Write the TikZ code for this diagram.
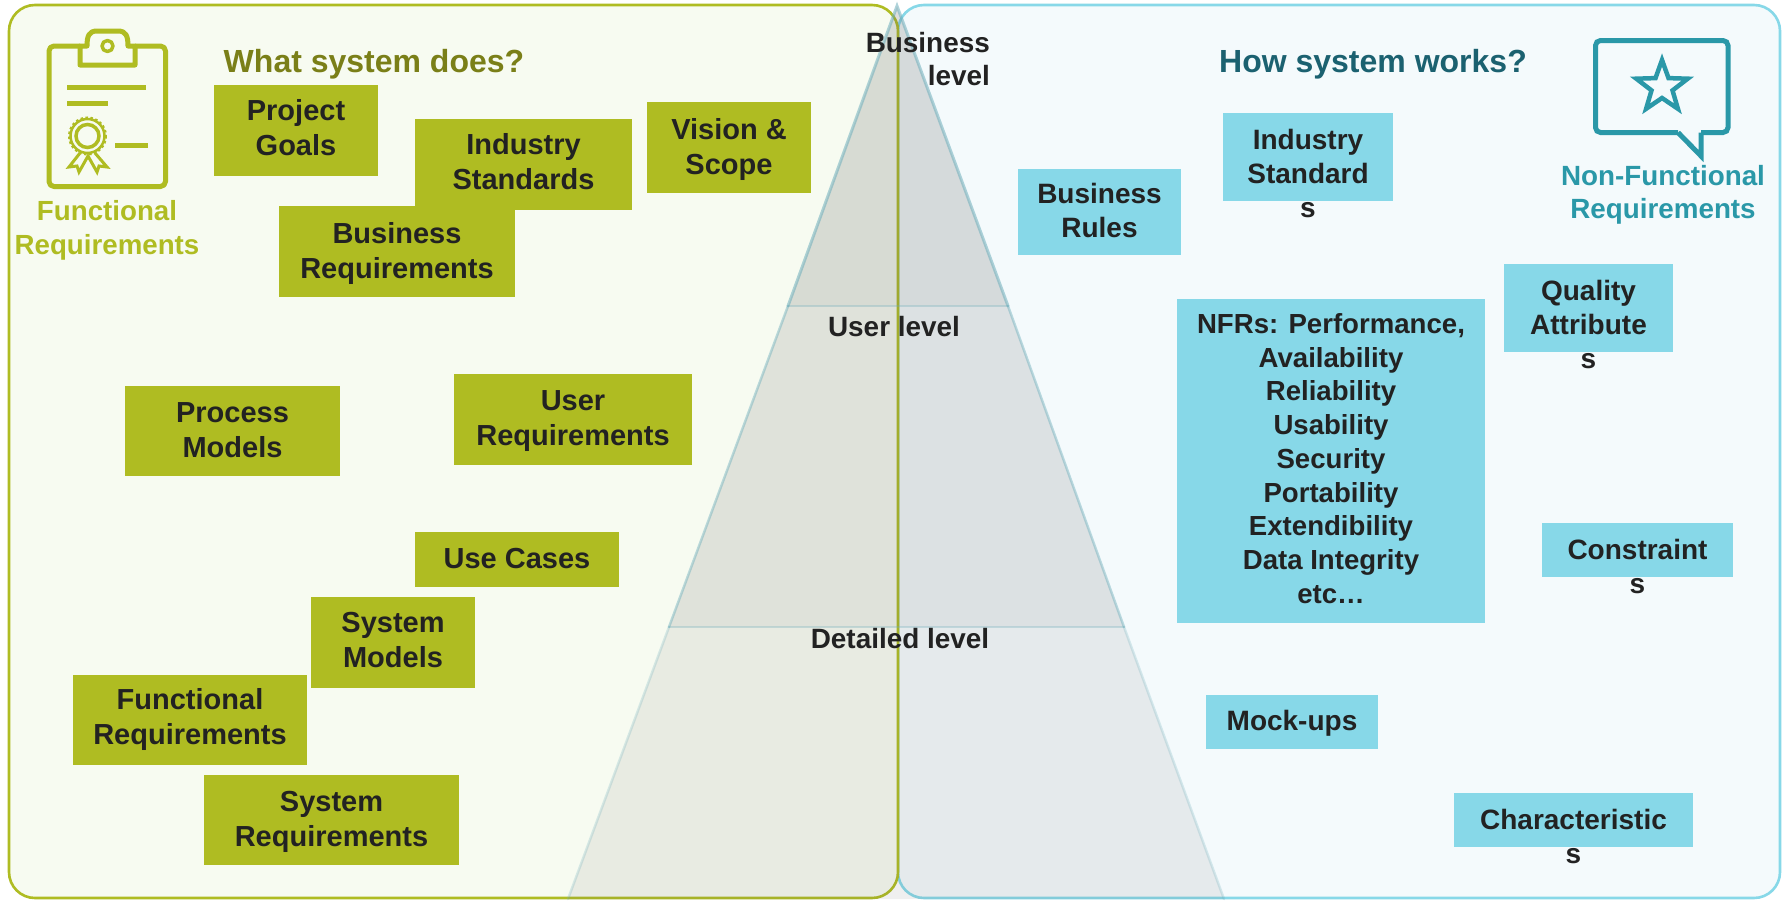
\documentclass[tikz,border=0pt]{standalone}
\usepackage{fontspec}
\setmainfont{Liberation Sans}
\definecolor{olivebox}{HTML}{AFBC22}
\definecolor{cyanbox}{HTML}{87D8E8}
\definecolor{leftbg}{HTML}{F7FBF1}
\definecolor{rightbg}{HTML}{F4FAFC}
\definecolor{inktext}{HTML}{222222}
\definecolor{titleolive}{HTML}{7A7F18}
\definecolor{titleteal}{HTML}{1B6170}
\definecolor{iconteal}{HTML}{2A98A8}
\definecolor{pyrfill}{HTML}{646464}
\definecolor{pyredge}{HTML}{6FAFBC}
\tikzset{
  x=1pt,y=-1pt,
  olv/.style={fill=olivebox,draw=none,inner sep=0pt},
  cyn/.style={fill=cyanbox,draw=none,inner sep=0pt},
  lefttext/.style={font=\fontsize{29}{35}\selectfont\bfseries,text=inktext,align=center,inner sep=0pt},
  righttext/.style={font=\fontsize{28}{34}\selectfont\bfseries,text=inktext,align=center,inner sep=0pt},
  nfrtext/.style={font=\fontsize{27.6}{33.7}\selectfont\bfseries,text=inktext,align=center,inner sep=0pt},
  levtext/.style={font=\fontsize{27.9}{33}\selectfont\bfseries,text=inktext,inner sep=0pt},
  icn/.style={draw=olivebox,line width=5pt,line join=round},
  icnb/.style={draw=iconteal,line width=5pt,line join=miter},
  pyr/.style={fill=pyrfill,draw=none},
  pyrline/.style={draw=pyredge,line cap=round},
}
% name, box style, text style, x1, y1, x2, y2, text offset down, text
\newcommand{\bx}[9]{%
  \node[#2,minimum width={(#6)-(#4)},minimum height={(#7)-(#5)}] (#1) at ({((#4)+(#6))/2},{((#5)+(#7))/2}) {};
  \node[#3] (#1t) at ({((#4)+(#6))/2},{((#5)+(#7))/2+(#8)}) {#9};}
\begin{document}
\begin{tikzpicture}
\useasboundingbox (0,0) rectangle (1787,900);
\fill[white] (0,0) rectangle (1787,900);
% panels
\draw[draw=cyanbox,fill=rightbg,line width=2.6pt,rounded corners=26pt] (898,5) rectangle (1780,898);
\draw[draw=olivebox,fill=leftbg,line width=2.6pt,rounded corners=26pt] (9,5) rectangle (898,898);
% pyramid
\fill[pyr,fill opacity=.1] (669,627) -- (1124,627) -- (1224,899) -- (568,899) -- cycle;
\fill[pyr,fill opacity=.16] (788,306) -- (1008,306) -- (1124,627) -- (669,627) -- cycle;
\fill[pyr,fill opacity=.21] (897,6) -- (1008,306) -- (788,306) -- cycle;
\draw[pyrline,draw opacity=.25,line width=2.5pt] (669,627) -- (568,899);
\draw[pyrline,draw opacity=.25,line width=2.5pt] (1124,627) -- (1224,899);
\draw[pyrline,draw opacity=.45,line width=2.5pt] (788,306) -- (669,627);
\draw[pyrline,draw opacity=.45,line width=2.5pt] (1008,306) -- (1124,627);
\draw[pyrline,draw opacity=.55,line width=3pt] (788,306) -- (897,6) -- (1008,306);
\draw[pyrline,draw opacity=.3,line width=2.5pt] (788,306) -- (1008,306);
\draw[pyrline,draw opacity=.3,line width=2.5pt] (669,627) -- (1124,627);
% left boxes
\bx{pg}{olv}{lefttext}{214}{85}{378}{176}{-3}{Project\\Goals}
\bx{is}{olv}{lefttext}{415}{119}{632}{210}{-3}{Industry\\Standards}
\bx{vs}{olv}{lefttext}{647}{102}{811}{193}{1.5}{Vision \&\\Scope}
\bx{br}{olv}{lefttext}{279}{206}{515}{297}{1.5}{Business\\Requirements}
\bx{pm}{olv}{lefttext}{125}{386}{340}{476}{-0.5}{Process\\Models}
\bx{ur}{olv}{lefttext}{454}{374}{692}{465}{2}{User\\Requirements}
\bx{uc}{olv}{lefttext}{415}{532}{619}{587}{-1}{Use Cases}
\bx{sm}{olv}{lefttext}{311}{597}{475}{688}{-2.5}{System\\Models}
\bx{fr}{olv}{lefttext}{73}{675}{307}{765}{-0.5}{Functional\\Requirements}
\bx{sr}{olv}{lefttext}{204}{775}{459}{865}{1.5}{System\\Requirements}
% right boxes
\bx{rules}{cyn}{righttext}{1018}{169}{1181}{255}{-2}{Business\\Rules}
\bx{nfr}{cyn}{nfrtext}{1177}{299}{1485}{623}{-2.5}{NFRs: Performance,\\Availability\\Reliability\\Usability\\Security\\Portability\\Extendibility\\Data Integrity\\etc…}
\bx{mock}{cyn}{righttext}{1206}{695}{1378}{749}{1}{Mock-ups}
\bx{std}{cyn}{righttext}{1223}{113}{1393}{201}{16.5}{Industry\\Standard\\s}
\bx{qa}{cyn}{righttext}{1504}{264}{1673}{352}{16}{Quality\\Attribute\\s}
\bx{con}{cyn}{righttext}{1542}{523}{1733}{577}{16.5}{Constraint\\s}
\bx{cha}{cyn}{righttext}{1454}{793}{1693}{847}{16}{Characteristic\\s}
% titles
\node[font=\fontsize{32}{38}\selectfont\bfseries,text=titleolive,inner sep=0pt] (t1) at (374,64) {What system does?};
\node[font=\fontsize{32}{38}\selectfont\bfseries,text=titleteal,inner sep=0pt] (t2) at (1373,64) {How system works?};
\node[font=\fontsize{27.7}{34}\selectfont\bfseries,text=olivebox,align=center,inner sep=0pt] (fl) at (107,230) {Functional\\Requirements};
\node[font=\fontsize{27.8}{33}\selectfont\bfseries,text=iconteal,align=center,inner sep=0pt] (nl) at (1663,195) {Non-Functional\\Requirements};
% level labels
\node[levtext,align=right,anchor=east] (bl) at (990,59.5) {Business\\level};
\node[levtext] (ul) at (894,327) {User level};
\node[levtext] (dl) at (900,639) {Detailed level};
% clipboard icon
\draw[icn,rounded corners=5pt] (80,46) -- (49,46) -- (49,186.5) -- (165.5,186.5) -- (165.5,46) -- (135,46);
\draw[icn] (80,65) -- (80,46) -- (87,46) .. controls (87,36) and (89,31) .. (97,31) -- (118,31) .. controls (126,31) and (128,36) .. (128,46) -- (135,46) -- (135,65) -- cycle;
\draw[icn,line width=3.5pt] (107.5,46) circle (5.5);
\draw[draw=olivebox,line width=5pt] (67,87.5) -- (146,87.5);
\draw[draw=olivebox,line width=5pt] (67,103.5) -- (108,103.5);
\draw[draw=olivebox,line width=5pt] (115,145.5) -- (148,145.5);
\draw[draw=olivebox,line width=2.5pt] (87.5,136) circle (17);
\draw[draw=olivebox,line width=2pt,dash pattern=on 2.5pt off 2.5pt] (87.5,136) circle (18.5);
\draw[draw=olivebox,line width=3.5pt] (87.5,136) circle (11.5);
\draw[draw=olivebox,line width=3pt,line join=miter] (80,153) -- (69,167) -- (77,166) -- (79,172) -- (88,156) -- (97,172) -- (99,166) -- (107,167) -- (95,153);
% bubble icon
\draw[icnb,rounded corners=5pt] (1701,132.5) -- (1728,132.5) -- (1728,40.5) -- (1595.5,40.5) -- (1595.5,132.5) -- (1678,132.5);
\draw[icnb] (1678,132.5) -- (1701,156) -- (1701,132.5);
\draw[icnb,line width=4.5pt] (1662,60) -- (1668.5,78.1) -- (1687.7,78.7) -- (1672.5,90.4) -- (1677.9,108.8) -- (1662,98) -- (1646.1,108.8) -- (1651.5,90.4) -- (1636.3,78.7) -- (1655.5,78.1) -- cycle;
\end{tikzpicture}
\end{document}
